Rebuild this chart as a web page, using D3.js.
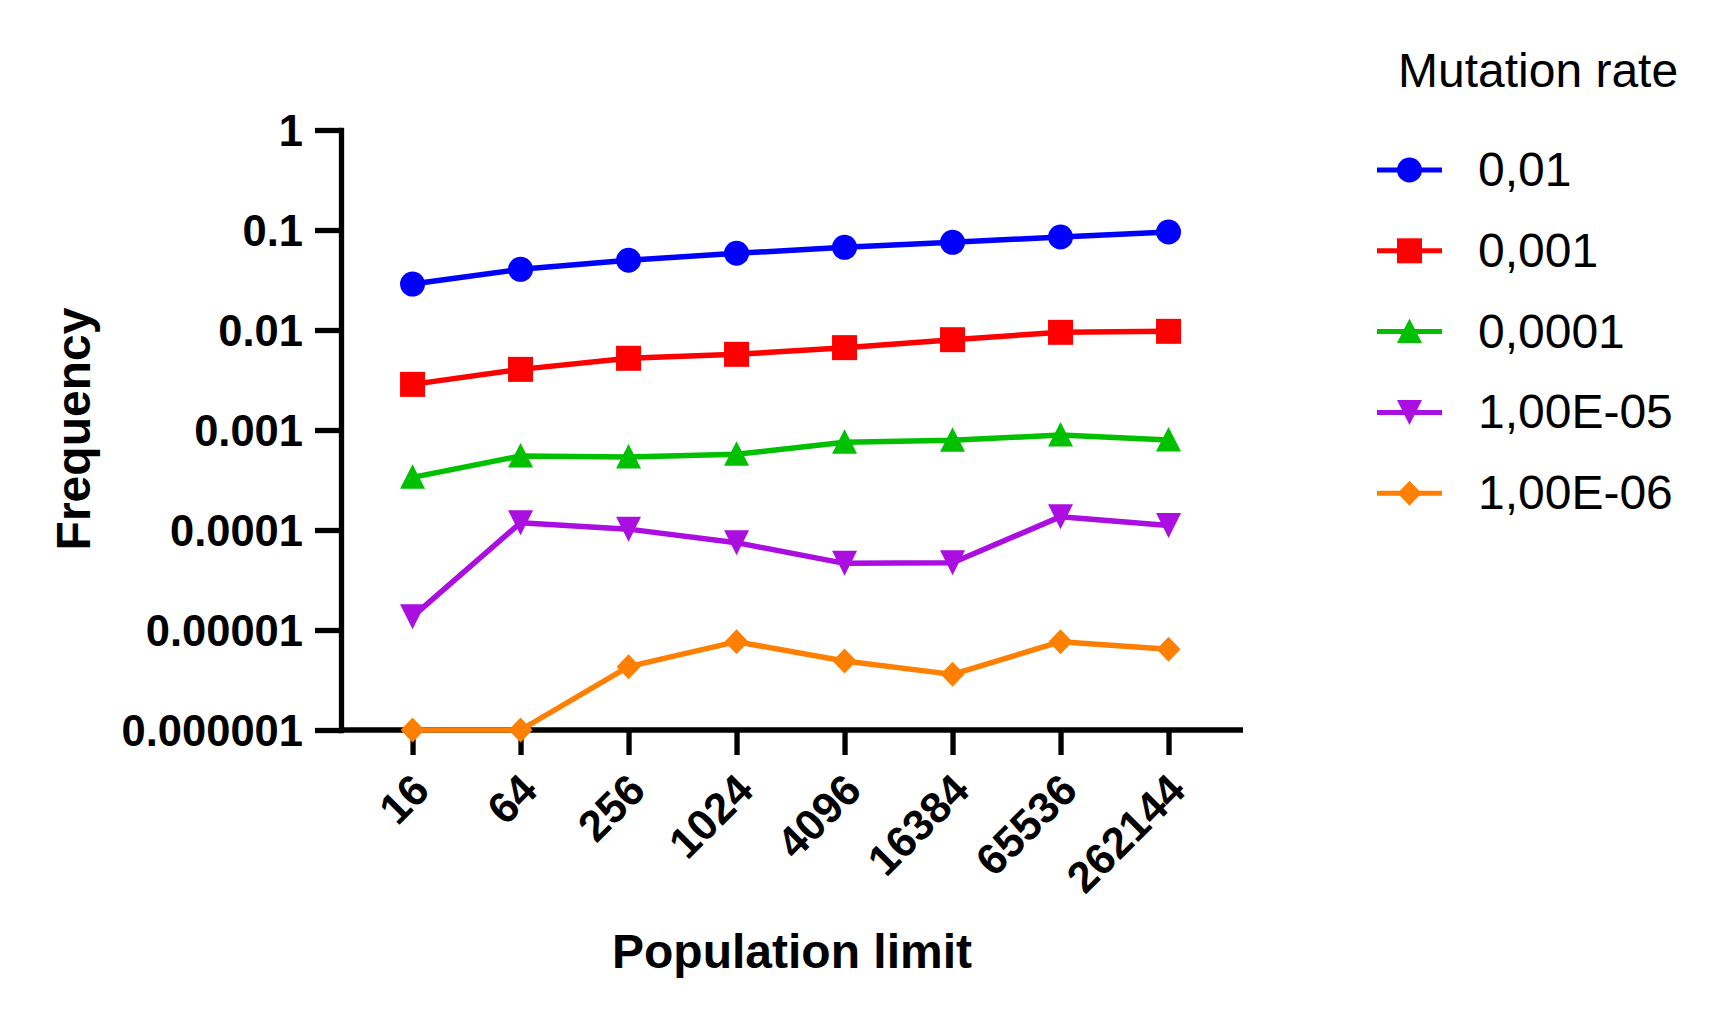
<!DOCTYPE html>
<html><head><meta charset="utf-8">
<script src="https://cdn.jsdelivr.net/npm/d3@7"></script>
<style>body{margin:0;background:#fff}svg{display:block;font-family:"Liberation Sans",Arial,sans-serif}</style>
</head><body><svg id="c" width="1721" height="1024"></svg>
<script>
const categories = ["16","64","256","1024","4096","16384","65536","262144"];
const seriesNames = ["0,01","0,001","0,0001","1,00E-05","1,00E-06"];
const s001 = [0.0288,0.0404,0.0498,0.0585,0.0671,0.0753,0.0851,0.0955];
const s0001 = [0.00286,0.00404,0.00521,0.00571,0.00666,0.0080,0.00948,0.0097];
const s00001 = [0.000336,0.00055,0.000537,0.000571,0.000753,0.000788,0.000891,0.000794];
const s1e5 = [0.0000136,0.000118,0.000102,0.0000747,0.0000464,0.0000471,0.000136,0.000111];
const s1e6 = [0.000001,0.000001,0.0000043,0.00000764,0.0000049,0.0000036,0.00000764,0.00000641];
const yTickValues = [1,0.1,0.01,0.001,0.0001,0.00001,0.000001];
const yTickLabels = ["1","0.1","0.01","0.001","0.0001","0.00001","0.000001"];
const colors = ["#0000ff","#ff0000","#00c000","#aa0ee0","#ff8000"];
const shapes = ["circle","square","triangle","itriangle","diamond"];
const seriesValues = [s001,s0001,s00001,s1e5,s1e6];

const svg = d3.select("#c");
const x = d3.scalePoint().domain(categories).range([341,1243]).padding(0.676).align(0.49);
const y = d3.scaleLog().domain([1e-6,1]).range([730,130]);

function shapePath(t){
  switch(t){
    case "circle": return "M12.5,0A12.5,12.5 0 1,1 -12.5,0A12.5,12.5 0 1,1 12.5,0Z";
    case "square": return "M-12.5,-12.5H12.5V12.5H-12.5Z";
    case "triangle": return "M0,-13L12.5,11.5L-12.5,11.5Z";
    case "itriangle": return "M0,12.5L12.5,-12.5L-12.5,-12.5Z";
    case "diamond": return "M0,-12.5L12,0L0,12.5L-12,0Z";
  }
}

// axes
const yAxis = svg.append("g").attr("transform","translate(341,0)")
  .call(d3.axisLeft(y).tickValues(yTickValues).tickSize(26).tickSizeOuter(0)
    .tickFormat((d,i)=>yTickLabels[i]));
yAxis.select(".domain").attr("stroke","#000").attr("stroke-width",5.3).attr("stroke-linecap","square");
yAxis.selectAll(".tick line").attr("stroke","#000").attr("stroke-width",5.3);
yAxis.selectAll(".tick text").attr("x",-38).attr("dy","0.36em").attr("fill","#000")
  .style("font-size","43.5px").style("font-weight","bold").style("font-family","'Liberation Sans',Arial,sans-serif");

const xAxis = svg.append("g").attr("transform","translate(0,730)")
  .call(d3.axisBottom(x).tickSize(25).tickSizeOuter(0));
xAxis.select(".domain").attr("stroke","#000").attr("stroke-width",5.3).attr("d","M341,0H1243");
xAxis.selectAll(".tick line").attr("stroke","#000").attr("stroke-width",5.3);
xAxis.selectAll(".tick text").attr("y",0).attr("dy",0)
  .attr("transform","translate(8,52) rotate(-45)")
  .attr("text-anchor","end").attr("dominant-baseline","central").attr("fill","#000")
  .style("font-size","43.5px").style("font-weight","bold").style("font-family","'Liberation Sans',Arial,sans-serif");

// titles
svg.append("text").attr("x",792).attr("y",968).attr("text-anchor","middle")
  .style("font-size","48px").style("font-weight","bold").text("Population limit");
svg.append("text").attr("transform","translate(90,429) rotate(-90)").attr("text-anchor","middle")
  .style("font-size","48px").style("font-weight","bold").text("Frequency");

// series
const line = d3.line().x((d,i)=>x(categories[i])).y(d=>y(d));
seriesValues.forEach((vals,k)=>{
  const g = svg.append("g");
  g.append("path").attr("d",line(vals)).attr("fill","none").attr("stroke",colors[k]).attr("stroke-width",5.5).attr("stroke-linejoin","round");
  g.selectAll("path.m").data(vals).enter().append("path").attr("class","m")
    .attr("transform",(d,i)=>`translate(${x(categories[i])},${y(d)})`)
    .attr("d",shapePath(shapes[k])).attr("fill",colors[k]);
});

// legend
svg.append("text").attr("x",1398).attr("y",87).style("font-size","48px").text("Mutation rate");
seriesNames.forEach((n,k)=>{
  const cy = 170 + k*80.8;
  const g = svg.append("g").attr("transform",`translate(0,${cy})`);
  g.append("line").attr("x1",1377).attr("x2",1442).attr("y1",0).attr("y2",0).attr("stroke",colors[k]).attr("stroke-width",5);
  g.append("path").attr("transform","translate(1409.5,0)").attr("d",shapePath(shapes[k])).attr("fill",colors[k]);
  g.append("text").attr("x",1478).attr("y",16).style("font-size","48px").text(n);
});
</script></body></html>
